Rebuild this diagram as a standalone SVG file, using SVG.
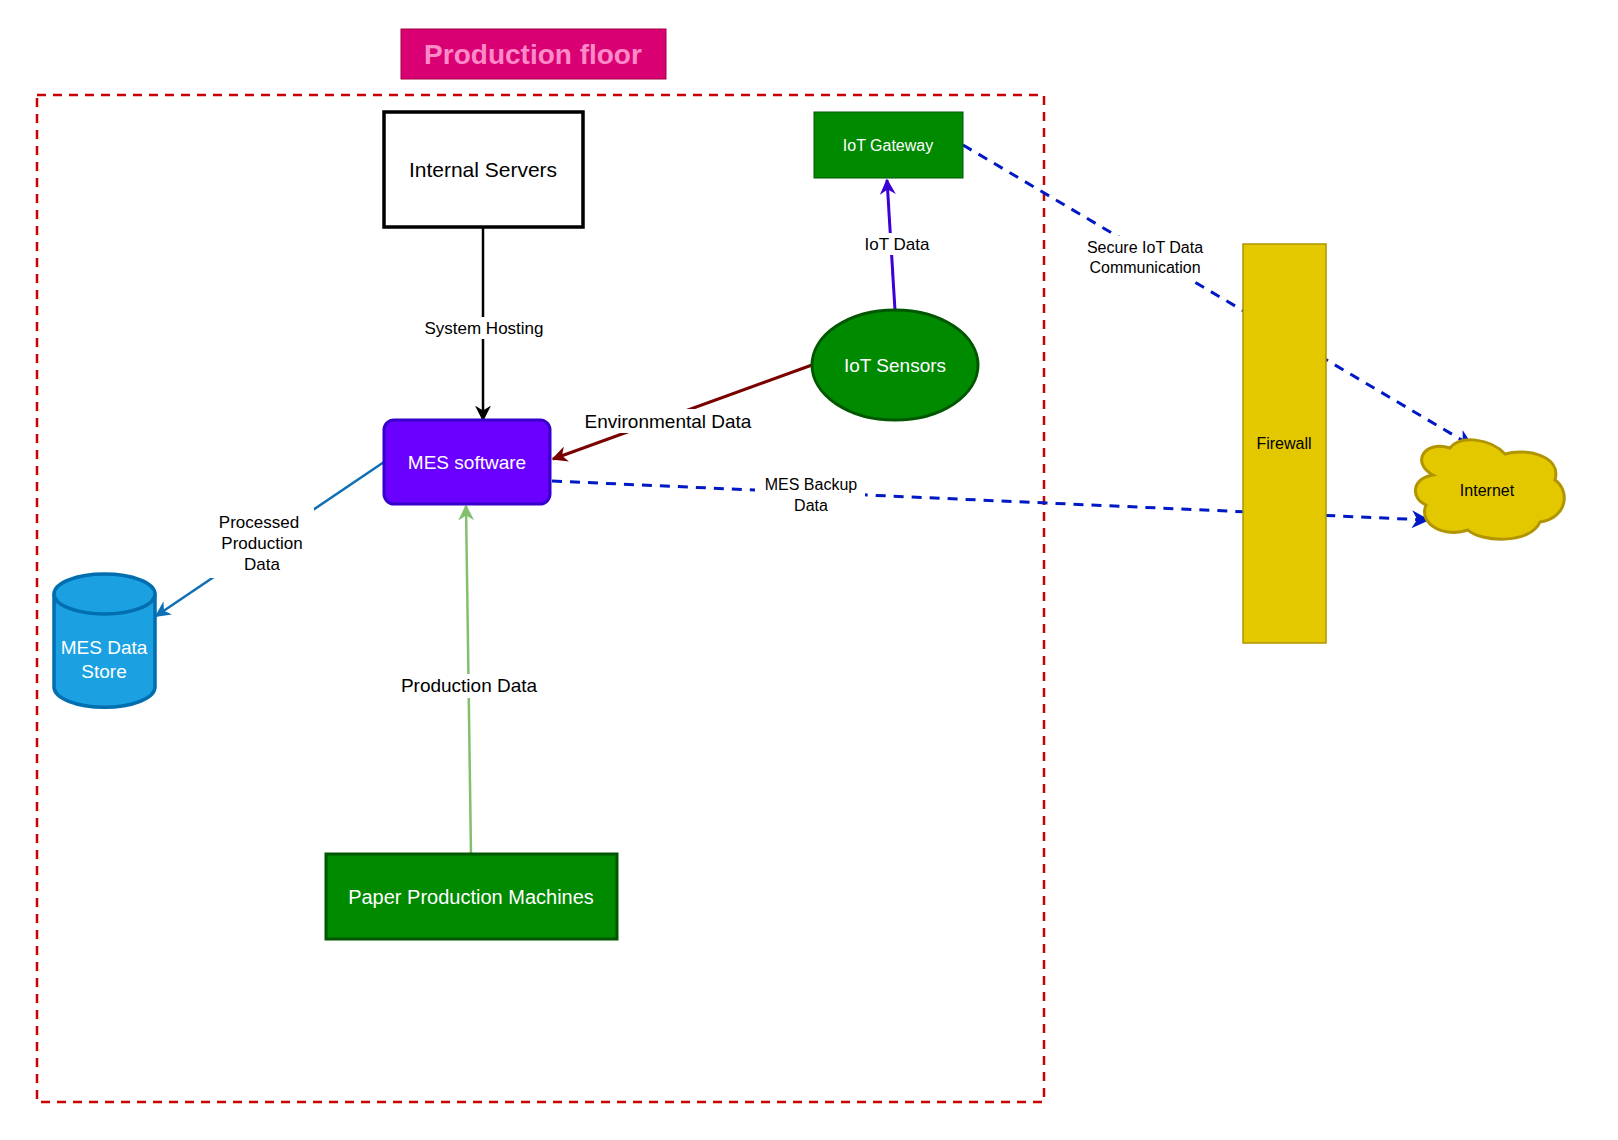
<svg xmlns="http://www.w3.org/2000/svg" width="1618" height="1140" viewBox="0 0 1618 1140">
<style>
text{font-family:"Liberation Sans",Arial,sans-serif;text-anchor:middle;dominant-baseline:central}
.lbl{fill:#000}
.bg{fill:#fff}
.dash{fill:none;stroke:#0019c4;stroke-width:3;stroke-dasharray:10,8}
</style>
<defs>
<marker id="mb" viewBox="0 0 10 10" refX="9" refY="5" markerWidth="18" markerHeight="18" orient="auto" markerUnits="userSpaceOnUse"><path d="M0,0L10,5L0,10L3,5Z" fill="#0019c4"/></marker>
<marker id="mbk" viewBox="0 0 10 10" refX="9" refY="5" markerWidth="16" markerHeight="16" orient="auto" markerUnits="userSpaceOnUse"><path d="M0,0L10,5L0,10L3,5Z" fill="#000"/></marker>
<marker id="mp" viewBox="0 0 10 10" refX="9" refY="5" markerWidth="16" markerHeight="16" orient="auto" markerUnits="userSpaceOnUse"><path d="M0,0L10,5L0,10L3,5Z" fill="#3a00d6"/></marker>
<marker id="mr" viewBox="0 0 10 10" refX="9" refY="5" markerWidth="16" markerHeight="16" orient="auto" markerUnits="userSpaceOnUse"><path d="M0,0L10,5L0,10L3,5Z" fill="#7a0000"/></marker>
<marker id="mc" viewBox="0 0 10 10" refX="9" refY="5" markerWidth="16" markerHeight="16" orient="auto" markerUnits="userSpaceOnUse"><path d="M0,0L10,5L0,10L3,5Z" fill="#0f6fb5"/></marker>
<marker id="mg" viewBox="0 0 10 10" refX="9" refY="5" markerWidth="16" markerHeight="16" orient="auto" markerUnits="userSpaceOnUse"><path d="M0,0L10,5L0,10L3,5Z" fill="#82c06e"/></marker>
</defs>
<rect width="1618" height="1140" fill="#fff"/>
<g id="frame">
<rect x="37" y="95" width="1007" height="1007" fill="none" stroke="#cc0000" stroke-width="2.5" stroke-dasharray="9,7"/>
</g>
<g id="title"><rect x="401" y="29" width="265" height="50" fill="#d80073" stroke="#a50040"/><text x="533" y="54" font-size="28" font-weight="bold" fill="#ff8ac8">Production floor</text></g>
<g id="connectors">
<line x1="483" y1="227" x2="483" y2="420" stroke="#000" stroke-width="2.5" marker-end="url(#mbk)"/>
<line x1="895" y1="310" x2="887" y2="180" stroke="#3a00d6" stroke-width="3" marker-end="url(#mp)"/>
<line x1="812" y1="365" x2="553" y2="459" stroke="#7a0000" stroke-width="3" marker-end="url(#mr)"/>
<line x1="384" y1="462" x2="156" y2="616" stroke="#0f6fb5" stroke-width="2.5" marker-end="url(#mc)"/>
<line x1="471" y1="854" x2="466" y2="506" stroke="#82c06e" stroke-width="2.5" marker-end="url(#mg)"/>
<polyline class="dash" points="963,145 1472,446" marker-end="url(#mb)"/>
<polyline class="dash" points="552,481 1428,520" marker-end="url(#mb)"/>
</g>
<g id="labels">
<rect class="bg" x="418" y="317" width="132" height="22"/><text class="lbl" x="484" y="328" font-size="17">System Hosting</text>
<rect class="bg" x="858" y="233" width="78" height="22"/><text class="lbl" x="897" y="244" font-size="17">IoT Data</text>
<rect class="bg" x="580" y="409" width="176" height="24"/><text class="lbl" x="668" y="421" font-size="19">Environmental Data</text>
<rect class="bg" x="206" y="508" width="108" height="70"/><text class="lbl" x="259" y="522" font-size="17">Processed</text><text class="lbl" x="262" y="543" font-size="17">Production</text><text class="lbl" x="262" y="564" font-size="17">Data</text>
<rect class="bg" x="394" y="674" width="150" height="24"/><text class="lbl" x="469" y="685" font-size="19">Production Data</text>
<rect class="bg" x="1080" y="236" width="130" height="44"/><text class="lbl" x="1145" y="247" font-size="16">Secure IoT Data</text><text class="lbl" x="1145" y="267" font-size="16">Communication</text>
<rect class="bg" x="755" y="472" width="110" height="44"/><text class="lbl" x="811" y="484" font-size="16">MES Backup</text><text class="lbl" x="811" y="505" font-size="16">Data</text>
</g>
<g id="internal-servers"><rect x="384" y="112" width="199" height="115" fill="#fff" stroke="#000" stroke-width="3.5"/><text x="483" y="169" font-size="21">Internal Servers</text></g>
<g id="iot-gateway"><rect x="814" y="112" width="149" height="66" fill="#008a00" stroke="#005700"/><text x="888" y="145" font-size="16" fill="#fff">IoT Gateway</text></g>
<g id="iot-sensors"><ellipse cx="895" cy="365" rx="83" ry="55" fill="#008a00" stroke="#005700" stroke-width="3"/><text x="895" y="365" font-size="19" fill="#fff">IoT Sensors</text></g>
<g id="mes-software"><rect x="384" y="420" width="166" height="84" rx="10" fill="#6a00ff" stroke="#3700cc" stroke-width="3"/><text x="467" y="462" font-size="19" fill="#fff">MES software</text></g>
<g id="mes-data-store"><path d="M54,594 V687 A50,20 0 0 0 155,687 V594" fill="#1ba1e2" stroke="#006eaf" stroke-width="3.5"/><ellipse cx="104.5" cy="594" rx="50.5" ry="20" fill="#1ba1e2" stroke="#006eaf" stroke-width="3.5"/><text x="104" y="647" font-size="19" fill="#fff">MES Data</text><text x="104" y="671" font-size="19" fill="#fff">Store</text></g>
<g id="paper-machines"><rect x="326" y="854" width="291" height="85" fill="#008a00" stroke="#005700" stroke-width="3"/><text x="471" y="897" font-size="20" fill="#fff">Paper Production Machines</text></g>
<g id="firewall"><rect x="1243" y="244" width="83" height="399" fill="#e3c800" stroke="#b09500" stroke-width="1.5"/><text x="1284" y="443" font-size="16">Firewall</text></g>
<g id="internet"><path d="M1433,475 C1410,462 1425,440 1450,448 C1460,435 1490,438 1505,454 C1525,448 1562,455 1555,480 C1570,490 1568,518 1540,522 C1530,545 1480,542 1468,530 C1445,538 1418,525 1426,505 C1410,498 1412,478 1433,475 Z" fill="#e3c800" stroke="#b09500" stroke-width="3"/><text x="1487" y="490" font-size="16">Internet</text></g>
</svg>
